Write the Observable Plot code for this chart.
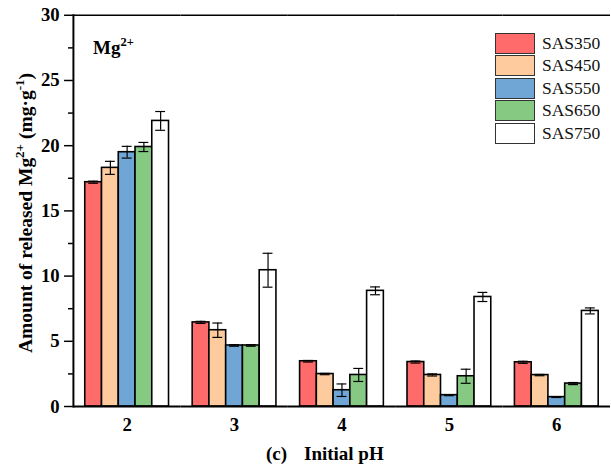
<!DOCTYPE html>
<html><head><meta charset="utf-8">
<script src="https://cdn.jsdelivr.net/npm/d3@7"></script>
<script src="https://cdn.jsdelivr.net/npm/@observablehq/plot@0.6"></script>
<style>
html,body{margin:0;padding:0;overflow:hidden;background:#fff;}
#chart{position:relative;width:611px;height:468px;overflow:hidden;}
#chart svg{position:absolute;left:0;top:0;}
.legend{position:absolute;left:495px;top:32px;font-family:'Liberation Serif','Times New Roman',serif;font-size:17.5px;color:#111;}
.legend .row{display:flex;align-items:center;height:22.5px;}
.legend .sw{width:38px;height:19px;border:1.5px solid #333;margin-right:7px;box-sizing:content-box;}
</style></head><body><div id="chart"></div>
<script>
const phs = ["2", "3", "4", "5", "6"];
const series = ["SAS350", "SAS450", "SAS550", "SAS650", "SAS750"];
const colors = ["#ff6b6b", "#fdcb9e", "#6fa6d6", "#85c983", "#ffffff"];
const yTicks = [0, 5, 10, 15, 20, 25, 30];
const yMinorTicks = [2.5, 7.5, 12.5, 17.5, 22.5, 27.5];

const sas350 = [17.2, 6.45, 3.47, 3.41, 3.39];
const sas350Err = [0.08, 0.08, 0.06, 0.08, 0.08];
const sas450 = [18.3, 5.85, 2.49, 2.42, 2.41];
const sas450Err = [0.5, 0.55, 0.05, 0.08, 0.05];
const sas550 = [19.5, 4.68, 1.25, 0.87, 0.72];
const sas550Err = [0.45, 0.06, 0.48, 0.04, 0.03];
const sas650 = [19.9, 4.68, 2.42, 2.32, 1.76];
const sas650Err = [0.35, 0.06, 0.5, 0.54, 0.08];
const sas750 = [21.9, 10.45, 8.87, 8.4, 7.33];
const sas750Err = [0.72, 1.3, 0.3, 0.35, 0.23];

const values = [sas350, sas450, sas550, sas650, sas750];
const errs = [sas350Err, sas450Err, sas550Err, sas650Err, sas750Err];
const rows = phs.flatMap((ph, i) => series.map((s, j) => ({
  ph, series: s, value: values[j][i], lo: values[j][i] - errs[j][i], hi: values[j][i] + errs[j][i]
})));

const font = "'Liberation Serif','Times New Roman',serif";
const plot = Plot.plot({
  width: 620, height: 468,
  marginLeft: 73, marginRight: 0, marginTop: 15, marginBottom: 56,
  style: {fontFamily: font, fontSize: "19px", fontWeight: "bold", color: "#000", background: "transparent"},
  fx: {domain: phs, padding: 0, label: null},
  x: {domain: series, paddingInner: 0, paddingOuter: 0.6, axis: null},
  y: {domain: [0, 30], label: null},
  color: {domain: series, range: colors},
  marks: [
    Plot.axisY({ticks: yTicks, tickSize: 9, tickPadding: 5, strokeWidth: 1.5, label: null}),
    Plot.axisY({ticks: yMinorTicks, tickSize: 5, strokeWidth: 1.5, tickFormat: () => "", label: null}),
    Plot.axisFx({anchor: "bottom", tickSize: 0, tickPadding: 11, label: null}),
    Plot.barY(rows, {fx: "ph", x: "series", y: "value", fill: "series", stroke: "#000", strokeWidth: 1.6}),
    Plot.ruleX(rows, {fx: "ph", x: "series", y1: "lo", y2: "hi", stroke: "#000", strokeWidth: 1.2}),
    Plot.tickY(rows, {fx: "ph", x: "series", y: "lo", stroke: "#000", strokeWidth: 1.2, insetLeft: 3.5, insetRight: 3.5}),
    Plot.tickY(rows, {fx: "ph", x: "series", y: "hi", stroke: "#000", strokeWidth: 1.2, insetLeft: 3.5, insetRight: 3.5}),
    Plot.frame({anchor: "left", facetAnchor: "left", stroke: "#000", strokeWidth: 2}),
    Plot.ruleY([0], {stroke: "#000", strokeWidth: 2}),
    Plot.ruleY([30], {stroke: "#000", strokeWidth: 1.5})
  ]
});
const chart = document.getElementById("chart");
chart.appendChild(plot);

// text overlay (titles with superscripts)
const ov = d3.select(chart).append("svg").attr("width", 611).attr("height", 468)
  .style("font-family", font).style("font-weight", "bold").style("pointer-events", "none");
const yt = ov.append("text").attr("transform", "translate(32,213) rotate(-90)")
  .attr("text-anchor", "middle").attr("font-size", 19.5);
yt.append("tspan").text("Amount of released Mg");
yt.append("tspan").attr("dy", -8).attr("font-size", 13).text("2+");
yt.append("tspan").attr("dy", 8).text(" (mg·g");
yt.append("tspan").attr("dy", -8).attr("font-size", 13).text("-1");
yt.append("tspan").attr("dy", 8).text(")");

const mg = ov.append("text").attr("x", 93).attr("y", 54).attr("font-size", 19);
mg.append("tspan").text("Mg");
mg.append("tspan").attr("dy", -8).attr("font-size", 12.5).text("2+");

ov.append("text").attr("x", 266).attr("y", 460).attr("font-size", 19).text("(c)");
ov.append("text").attr("x", 304).attr("y", 460).attr("font-size", 19).text("Initial pH");

// legend
const lg = d3.select(chart).append("div").attr("class", "legend");
series.forEach((s, i) => {
  const r = lg.append("div").attr("class", "row");
  r.append("div").attr("class", "sw").style("background", colors[i]);
  r.append("span").text(s);
});
</script></body></html>
